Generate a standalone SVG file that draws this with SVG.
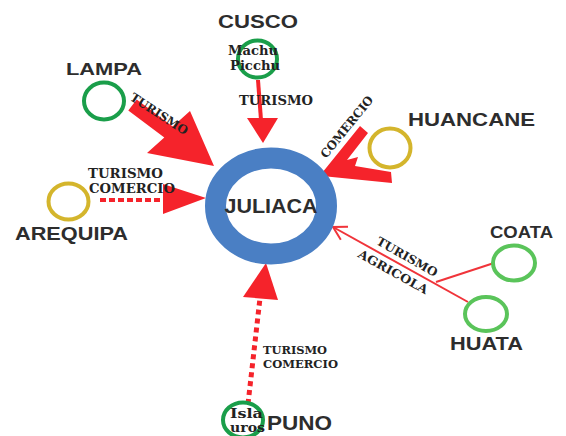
<svg xmlns="http://www.w3.org/2000/svg" width="566" height="436" viewBox="0 0 566 436">
<style>
.lbl{font-family:"Liberation Sans",Arial,sans-serif;font-weight:bold;fill:#2d2d2d}
.sm{font-family:"DejaVu Serif","Liberation Serif",serif;font-weight:bold;fill:#222;font-size:12px}
.grn{fill:none;stroke:#1a9e4a;stroke-width:4}
.lgrn{fill:none;stroke:#5ac45a;stroke-width:4}
.ylw{fill:none;stroke:#d4b52c;stroke-width:4}
.red{fill:#f5232b}
.dash{stroke:#f5232b;fill:none}
</style>
<rect width="566" height="436" fill="#ffffff"/>
<g id="connectors">
  <!-- Cusco -->
  <polygon class="red" points="256,80 260,80 263,120 259,120"/>
  <polygon class="red" points="247,118 278,118 263,143"/>
  <!-- Lampa -->
  <polygon class="red" points="136.7,99.4 172.7,126.4 190,111 214,166 147,153 164.3,137.6 128.3,110.6"/>
  <!-- Huancane -->
  <polygon class="red" points="322,173 360,126 368,133 347,160 358,157 355,166 391,172 392,183 322,176"/>
  <!-- Arequipa -->
  <line class="dash" x1="100" y1="200" x2="164" y2="200" stroke-width="4" stroke-dasharray="6,3"/>
  <polygon class="red" points="163,184 163,214 206,198"/>
  <!-- Puno -->
  <line class="dash" x1="248" y1="404" x2="260" y2="298" stroke-width="5" stroke-dasharray="5,4"/>
  <polygon class="red" points="243,297 278,300 266,263"/>
  <!-- Coata / Huata -->
  <line x1="468" y1="302" x2="333" y2="227" stroke="#f0343a" stroke-width="2"/>
  <line x1="494" y1="263" x2="436" y2="282" stroke="#f0343a" stroke-width="2"/>
  <polyline points="348,226.7 333,227 340.8,239.8" fill="none" stroke="#f0343a" stroke-width="2"/>
  <!-- connector labels -->
  <text class="sm" x="276" y="105" text-anchor="middle" textLength="74" lengthAdjust="spacingAndGlyphs">TURISMO</text>
  <text class="sm" transform="translate(159,114) rotate(33)" x="0" y="4" text-anchor="middle" textLength="66" lengthAdjust="spacingAndGlyphs">TURISMO</text>
  <text class="sm" transform="translate(347,127) rotate(-51)" x="0" y="4" text-anchor="middle" textLength="76" lengthAdjust="spacingAndGlyphs">COMERCIO</text>
  <text class="sm" x="88" y="178" textLength="75" lengthAdjust="spacingAndGlyphs">TURISMO</text>
  <text class="sm" x="89" y="193" textLength="86" lengthAdjust="spacingAndGlyphs">COMERCIO</text>
  <text class="sm" transform="translate(407,257) rotate(29.5)" x="0" y="4" text-anchor="middle" textLength="68" lengthAdjust="spacingAndGlyphs">TURISMO</text>
  <text class="sm" transform="translate(393,272) rotate(29)" x="0" y="4" text-anchor="middle" textLength="78" lengthAdjust="spacingAndGlyphs">AGRICOLA</text>
  <text class="sm" x="263" y="354" textLength="64" lengthAdjust="spacingAndGlyphs" style="font-size:11px">TURISMO</text>
  <text class="sm" x="263" y="368" textLength="75" lengthAdjust="spacingAndGlyphs" style="font-size:11px">COMERCIO</text>
</g>
<g id="juliaca">
  <ellipse cx="271" cy="206" rx="55.5" ry="48" fill="none" stroke="#4a7fc4" stroke-width="21"/>
  <text class="lbl" x="271" y="213" text-anchor="middle" font-size="20" textLength="93" lengthAdjust="spacingAndGlyphs">JULIACA</text>
</g>
<g id="cusco">
  <text class="lbl" x="218" y="28" font-size="19" textLength="80" lengthAdjust="spacingAndGlyphs">CUSCO</text>
  <ellipse class="grn" cx="257.5" cy="59" rx="19.5" ry="18.5"/>
  <text class="sm" x="228" y="55" textLength="50" lengthAdjust="spacingAndGlyphs">Machu</text>
  <text class="sm" x="230" y="70" textLength="50" lengthAdjust="spacingAndGlyphs">Picchu</text>
</g>
<g id="lampa">
  <text class="lbl" x="66" y="75" font-size="17" textLength="76" lengthAdjust="spacingAndGlyphs">LAMPA</text>
  <ellipse class="grn" cx="104" cy="101" rx="20" ry="18.5"/>
</g>
<g id="huancane">
  <text class="lbl" x="408" y="126" font-size="18" textLength="127" lengthAdjust="spacingAndGlyphs">HUANCANE</text>
  <ellipse class="ylw" cx="390" cy="148" rx="20.5" ry="19.5"/>
</g>
<g id="arequipa">
  <ellipse class="ylw" cx="68.5" cy="201.5" rx="20" ry="18"/>
  <text class="lbl" x="15" y="240" font-size="18" textLength="113" lengthAdjust="spacingAndGlyphs">AREQUIPA</text>
</g>
<g id="coata">
  <text class="lbl" x="490" y="238" font-size="17" textLength="63" lengthAdjust="spacingAndGlyphs">COATA</text>
  <ellipse class="lgrn" cx="514" cy="263" rx="21" ry="17.5"/>
</g>
<g id="huata">
  <ellipse class="lgrn" cx="486" cy="314" rx="21" ry="17"/>
  <text class="lbl" x="450" y="350" font-size="18" textLength="73" lengthAdjust="spacingAndGlyphs">HUATA</text>
</g>
<g id="puno">
  <ellipse class="grn" cx="243" cy="420" rx="20" ry="17.5"/>
  <text class="sm" x="230" y="418" textLength="33" lengthAdjust="spacingAndGlyphs">Isla</text>
  <text class="sm" x="230" y="432" textLength="35" lengthAdjust="spacingAndGlyphs">uros</text>
  <text class="lbl" x="267" y="430" font-size="21" textLength="65" lengthAdjust="spacingAndGlyphs">PUNO</text>
</g>
</svg>
